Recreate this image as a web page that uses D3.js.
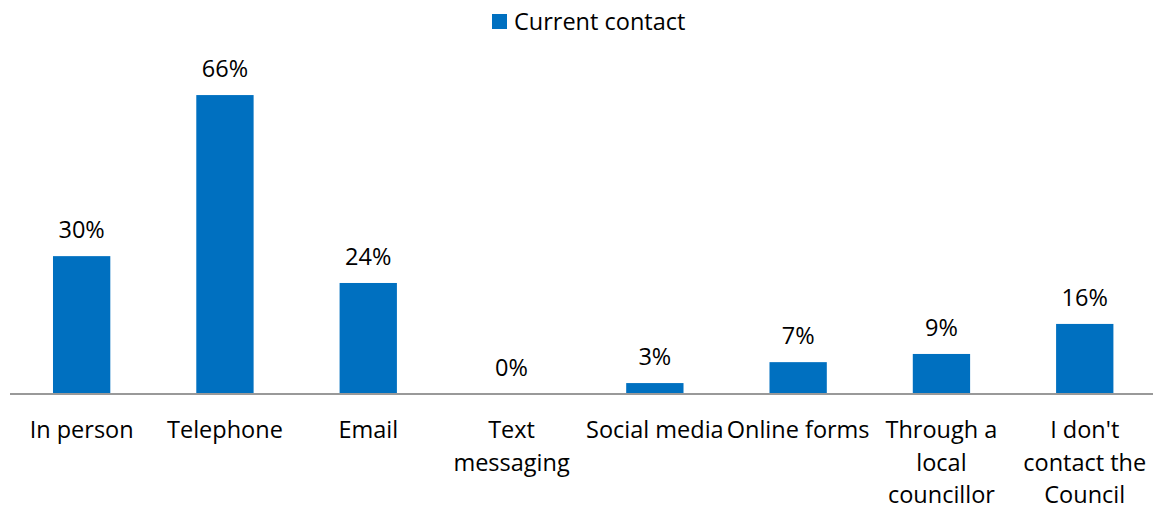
<!DOCTYPE html>
<html><head><meta charset="utf-8">
<script src="https://cdn.jsdelivr.net/npm/d3@7"></script>
<style>body{margin:0;background:#fff;} text{font-family:"Open Sans",sans-serif;fill:#000;}</style>
</head><body>
<svg id="c" width="1153" height="507"></svg>
<script>
const categories = ["In person","Telephone","Email","Text messaging","Social media","Online forms","Through a local councillor","I don't contact the Council"];
const categoryLines = [["In person"],["Telephone"],["Email"],["Text","messaging"],["Social media"],["Online forms"],["Through a","local","councillor"],["I don't","contact the","Council"]];
const values = [30.3, 65.7, 24.4, 0, 2.4, 7.0, 8.8, 15.4];
const valueLabels = ["30%","66%","24%","0%","3%","7%","9%","16%"];
const seriesName = "Current contact";

const svg = d3.select("#c");
const x = d3.scaleBand().domain(categories).range([10,1156.4]).paddingInner(0.6).paddingOuter(0.3);
const y = d3.scaleLinear().domain([0,70]).range([394, 394-70*4.55]);
const color = "#0070C0";
const fs = "23.5px";

svg.selectAll("rect.bar").data(values).join("rect").attr("class","bar")
  .attr("x",(d,i)=>x(categories[i])).attr("width",x.bandwidth())
  .attr("y",d=>y(d)).attr("height",d=>y(0)-y(d)).attr("fill",color);

const axis = svg.append("g").attr("transform","translate(0,394)")
  .call(d3.axisBottom(x).tickSize(0).tickFormat(""));
axis.select(".domain").attr("stroke","#999").attr("stroke-width",2).attr("d","M10,0H1156");

svg.selectAll("text.val").data(values).join("text").attr("class","val")
  .attr("x",(d,i)=>x(categories[i])+x.bandwidth()/2).attr("y",d=>y(d)-18)
  .attr("text-anchor","middle").style("font-size",fs).text((d,i)=>valueLabels[i]);

const cl = svg.selectAll("text.cat").data(categoryLines).join("text").attr("class","cat")
  .attr("x",(d,i)=>x(categories[i])+x.bandwidth()/2).attr("y",438)
  .attr("text-anchor","middle").style("font-size",fs);
cl.selectAll("tspan").data(d=>d).join("tspan")
  .attr("x",function(){return this.parentNode.getAttribute("x");})
  .attr("dy",(d,i)=>i===0?0:32.5).text(d=>d);

const lg = svg.append("g");
lg.append("rect").attr("x",492).attr("y",14).attr("width",15).attr("height",15).attr("fill",color);
lg.append("text").attr("x",514).attr("y",30).style("font-size",fs).text(seriesName);
</script>
</body></html>
